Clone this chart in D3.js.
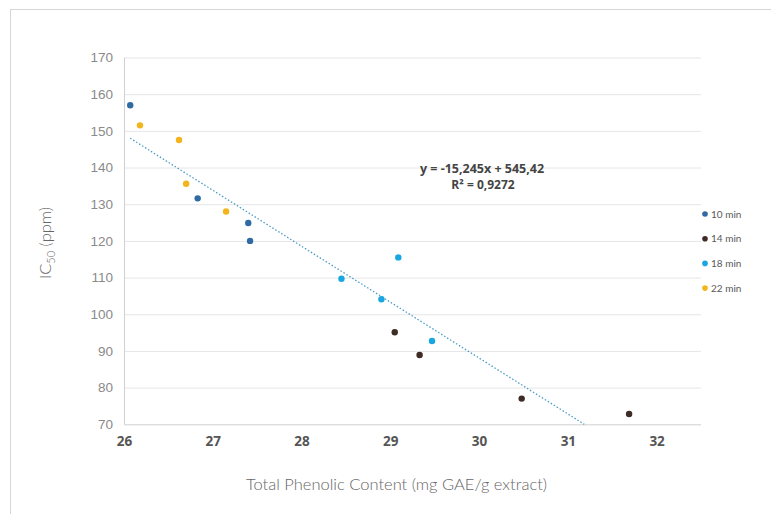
<!DOCTYPE html>
<html>
<head>
<meta charset="utf-8">
<script src="https://cdn.jsdelivr.net/npm/d3@7"></script>
<style>
  body { margin: 0; background: #fff; }
  svg { display: block; font-family: "Lato", "Noto Sans", sans-serif; }
</style>
</head>
<body>
<div id="chart"></div>
<script>
// series: x = total phenolic content, y = IC50
const series_names = ['10 min', '14 min', '18 min', '22 min'];
const series_colors = ['#2f6aa3', '#3e2b25', '#18a7e0', '#f2b51d'];

const x_10 = [26.07, 26.83, 27.40, 27.42];
const y_10 = [157.0, 131.6, 124.9, 120.0];
const x_14 = [29.05, 29.33, 30.48, 31.69];
const y_14 = [95.1, 88.9, 77.0, 72.8];
const x_18 = [28.45, 28.90, 29.09, 29.47];
const y_18 = [109.7, 104.1, 115.5, 92.7];
const x_22 = [26.18, 26.62, 26.70, 27.15];
const y_22 = [151.5, 147.5, 135.6, 128.0];

const x_ticks = [26, 27, 28, 29, 30, 31, 32];
const y_ticks = [70, 80, 90, 100, 110, 120, 130, 140, 150, 160, 170];

const slope = -15.245;
const intercept = 545.42;
const eq_label = 'y = -15,245x + 545,42';
const r2_label = 'R² = 0,9272';

const w = 771;
const h = 514;
const pl = 124, pr = 701, pt = 57.5, pb = 424.3;

const xs = [x_10, x_14, x_18, x_22];
const ys = [y_10, y_14, y_18, y_22];

const xScale = d3.scaleLinear([26, 32.5], [pl, pr]);
const yScale = d3.scaleLinear([70, 170], [pb, pt]);

const svg = d3.select('#chart')
  .append('svg')
  .attr('width', w)
  .attr('height', h);

// outer frame
svg.append('rect')
  .attr('x', 10.5).attr('y', 9.5)
  .attr('width', 800).attr('height', 600)
  .attr('fill', 'none')
  .attr('stroke', '#d6d6d6');

// gridlines + y labels
const yAxis = d3.axisLeft(yScale).tickValues(y_ticks).tickSize(0).tickPadding(11);
svg.append('g')
  .attr('transform', 'translate(' + pl + ',0)')
  .call(yAxis)
  .call(g => g.select('.domain').remove())
  .call(g => g.selectAll('.tick line').clone()
      .attr('x2', pr - pl)
      .attr('stroke', d => d === 70 ? '#d0d0d0' : '#e6e6e6')
      .attr('stroke-width', 1))
  .call(g => g.selectAll('.tick text')
      .attr('fill', '#8a8a8a')
      .attr('font-size', 13.5)
      .attr('font-weight', 300));

// y axis line
svg.append('line')
  .attr('x1', pl + 0.5).attr('x2', pl + 0.5)
  .attr('y1', pt).attr('y2', pb)
  .attr('stroke', '#d0d0d0');

// x labels
const xAxis = d3.axisBottom(xScale).tickValues(x_ticks).tickFormat(d3.format('d'))
  .tickSize(0).tickPadding(12);
svg.append('g')
  .attr('transform', 'translate(0,' + pb + ')')
  .call(xAxis)
  .call(g => g.select('.domain').remove())
  .call(g => g.selectAll('.tick text')
      .attr('fill', '#555555')
      .attr('font-size', 13.5)
      .attr('font-weight', 'bold')
      .attr('font-family', '"Open Sans", sans-serif'));

// trendline, from smallest x until it meets the bottom of the plot
const all_x = [].concat(...xs);
const x_start = d3.min(all_x);
const x_end = Math.min(d3.max(all_x), (70 - intercept) / slope);
svg.append('line')
  .attr('x1', xScale(x_start)).attr('y1', yScale(slope * x_start + intercept))
  .attr('x2', xScale(x_end)).attr('y2', yScale(slope * x_end + intercept))
  .attr('stroke', '#4a9cc8')
  .attr('stroke-width', 1.3)
  .attr('stroke-dasharray', '1.5,2');

// points
xs.forEach((xv, i) => {
  svg.append('g')
    .selectAll('circle')
    .data(xv.map((x, j) => ({x: x, y: ys[i][j]})))
    .join('circle')
    .attr('cx', d => xScale(d.x))
    .attr('cy', d => yScale(d.y))
    .attr('r', 3.2)
    .attr('fill', series_colors[i]);
});

// equation
svg.append('text')
  .attr('x', 482).attr('y', 173)
  .attr('text-anchor', 'middle')
  .attr('font-size', 12.5)
  .attr('font-weight', 'bold')
  .attr('font-family', '"Open Sans", sans-serif')
  .attr('fill', '#444')
  .text(eq_label);
svg.append('text')
  .attr('x', 483).attr('y', 188.5)
  .attr('text-anchor', 'middle')
  .attr('font-size', 12)
  .attr('font-weight', 'bold')
  .attr('font-family', '"Open Sans", sans-serif')
  .attr('fill', '#444')
  .text(r2_label);

// legend
const legend = svg.append('g')
  .selectAll('g')
  .data(series_names)
  .join('g')
  .attr('transform', (d, i) => 'translate(705,' + (214 + i * 24.7) + ')');
legend.append('circle')
  .attr('r', 2.8)
  .attr('fill', (d, i) => series_colors[i]);
legend.append('text')
  .attr('x', 6)
  .attr('dy', '0.35em')
  .attr('font-size', 10)
  .attr('fill', '#595959')
  .text(d => d);

// axis titles
svg.append('text')
  .attr('x', 396.5).attr('y', 490)
  .attr('text-anchor', 'middle')
  .attr('font-size', 16.5)
  .attr('font-weight', 300)
  .attr('fill', '#666')
  .text('Total Phenolic Content (mg GAE/g extract)');

const ytitle = svg.append('text')
  .attr('transform', 'translate(51,243) rotate(-90)')
  .attr('text-anchor', 'middle')
  .attr('font-size', 16.5)
  .attr('font-weight', 300)
  .attr('fill', '#666');
ytitle.append('tspan').text('IC');
ytitle.append('tspan').attr('font-size', 11).attr('dy', 4).text('50');
ytitle.append('tspan').attr('dy', -4).text(' (ppm)');
</script>
</body>
</html>
